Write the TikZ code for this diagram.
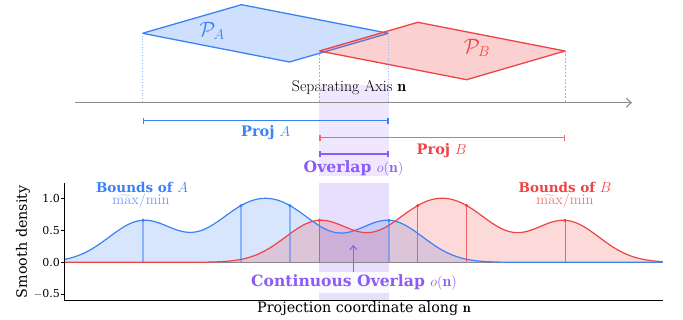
\documentclass[tikz,border=0pt]{standalone}
\usepackage{fontspec}
\newfontfamily\dvs{DejaVu Serif}
\usetikzlibrary{arrows.meta}
\definecolor{cA}{HTML}{3B82F6}
\definecolor{cB}{HTML}{EF4444}
\definecolor{cO}{HTML}{8B5CF6}
\definecolor{axg}{HTML}{8C8C8C}
\tikzset{
  boldlbl/.style={font={\fontsize{14.5}{16}\selectfont\dvs\bfseries}, inner sep=1pt},
  ovlbl/.style={font={\fontsize{15.6}{17}\selectfont\dvs\bfseries}, inner sep=1pt},
  bndlbl/.style={font={\fontsize{13.5}{15}\selectfont\dvs\bfseries}, inner sep=1pt},
  mmlbl/.style={font={\fontsize{14.5}{15}\selectfont}, inner sep=0pt},
  serlbl/.style={font={\fontsize{14.3}{15}\selectfont\dvs}, inner sep=1pt},
  ticklbl/.style={font={\fontsize{11}{12}\selectfont\dvs}, inner sep=0pt, anchor=east},
  polyA/.style={draw=cA, fill=cA, fill opacity=0.25, line width=1.3pt, line join=round},
  polyB/.style={draw=cB, fill=cB, fill opacity=0.25, line width=1.3pt, line join=round},
  projbar/.style={line width=1.5pt, {Bar[width=6pt]}-{Bar[width=6pt]}},
  dotA/.style={circle, fill=cA, inner sep=0pt, minimum size=3.5pt},
  dotB/.style={circle, fill=cB, inner sep=0pt, minimum size=3.5pt},
  stemA/.style={cA, opacity=0.5, line width=2pt},
  stemB/.style={cB, opacity=0.8, line width=1pt},
}
\begin{document}
\begin{tikzpicture}[x=1pt,y=-1pt,
  declare function={
    gg(\t)=exp(-min(0.5*(\t/34)*(\t/34),12));
    fA(\t)=(gg(\t-143)+gg(\t-241)+gg(\t-290)+gg(\t-389))/1.546;
    fB(\t)=(gg(\t-319.3)+gg(\t-417.7)+gg(\t-466.6)+gg(\t-565))/1.546;
  }]
\path[use as bounding box] (0,0) rectangle (683,320);

% overlap columns
\fill[cO, opacity=0.15] (319.3,85) rectangle (388.5,176);
\fill[cO, opacity=0.2] (319.3,183) rectangle (388.5,300.7);

% parallelograms
\coordinate (AL) at (142.5,33.3);
\coordinate (AT) at (241.5,4.7);
\coordinate (AR) at (388.5,33.3);
\coordinate (AB) at (289.5,62);
\coordinate (BL) at (319.3,51);
\coordinate (BT) at (417.7,22.3);
\coordinate (BR) at (565,51);
\coordinate (BB) at (466.6,79.7);
\path[polyA] (AL) -- (AT) -- (AR) -- (AB) -- cycle;
\path[polyB] (BL) -- (BT) -- (BR) -- (BB) -- cycle;
\node[text=cA, font={\fontsize{20}{22}\selectfont}] (PA) at (212,31) {$\mathcal{P}_A$};
\node[text=cB, font={\fontsize{20}{22}\selectfont}] (PB) at (477,48) {$\mathcal{P}_B$};

% separating axis
\coordinate (ax0) at (75,102.7);
\coordinate (ax1) at (632,102.7);
\draw[axg, line width=1.1pt, -{Straight Barb[length=5pt,width=9pt]}] (ax0) -- (ax1);
\node[font={\fontsize{15.8}{17}\selectfont}] (sep) at (349,88) {Separating Axis $\mathbf{n}$};

% projection guides
\draw[cA!55, dotted, line width=0.7pt] (AL) -- (AL |- ax0);
\draw[cA!55, dotted, line width=0.7pt] (AR) -- (AR |- ax0);
\draw[cB!55, dashed, dash pattern=on 2pt off 1.5pt, line width=0.6pt] (BL) -- (BL |- ax0);
\draw[cB!55, dashed, dash pattern=on 2pt off 1.5pt, line width=0.6pt] (BR) -- (BR |- ax0);

% projection bars
\coordinate (pa0) at (142.5,120.7);
\coordinate (pa1) at (388.5,120.7);
\coordinate (pb0) at (319.3,137.7);
\coordinate (pb1) at (565,137.7);
\coordinate (po0) at (319.3,154);
\coordinate (po1) at (388.5,154);
\draw[projbar, cA] (pa0) -- (pa1);
\draw[projbar, cB!80] (pb0) -- (pb1);
\draw[projbar, cO] (po0) -- (po1);
\node[boldlbl, text=cA] (projA) at (265.7,133) {Proj $A$};
\node[boldlbl, text=cB] (projB) at (441.7,151) {Proj $B$};
\node[ovlbl, text=cO] (ovl) at (353.5,168.5) {Overlap $o(\mathbf{n})$};

% plot axes
\coordinate (z0) at (64.3,262.3);
\coordinate (z1) at (662.7,262.3);
\draw[axg, line width=0.6pt] (z0) -- (z1);

% densities
\fill[cA, fill opacity=0.2] (z0) -- plot[domain=64.3:662.7, samples=240] (\x,{262.3-64*fA(\x)}) -- (z1) -- cycle;
\fill[cB, fill opacity=0.2] (z0) -- plot[domain=64.3:662.7, samples=240] (\x,{262.3-64*fB(\x)}) -- (z1) -- cycle;
\draw[cA, line width=1.2pt] plot[domain=64.3:662.7, samples=240] (\x,{262.3-64*fA(\x)});
\draw[cB, line width=1.2pt] plot[domain=64.3:662.7, samples=240] (\x,{262.3-64*fB(\x)});

% stems and dots
\foreach \p [count=\i] in {143,241,290,389}{
  \node[dotA] (a\i) at (\p,{262.3-64*fA(\p)}) {};
  \draw[stemA] (a\i.center) -- (a\i |- z0);
}
\foreach \p [count=\i] in {319.3,417.7,466.6,565}{
  \node[dotB] (b\i) at (\p,{262.3-64*fB(\p)}) {};
  \draw[stemB] (b\i.center) -- (b\i |- z0);
}

% spines and ticks
\coordinate (sp0) at (64.3,183);
\coordinate (sp1) at (64.3,300.7);
\coordinate (sp2) at (662.7,300.7);
\draw[black, line width=1pt] (sp0) -- (sp1) -- (sp2);
\foreach \v/\lab [count=\i] in {1.0/1.0, 0.5/0.5, 0.0/0.0, -0.5/$-$0.5}{
  \coordinate (tk\i) at (64.3,{262.3-64*\v});
  \draw[black, line width=0.8pt] (tk\i) -- ++(-3.5,0);
  \node[ticklbl] (tl\i) at (60,{262.3-64*\v}) {\lab};
}
\node[serlbl, rotate=90] (ylab) at (23,241.7) {Smooth density};
\node[serlbl] (xlab) at (364,309) {Projection coordinate along $\mathbf{n}$};

% bounds labels
\node[bndlbl, text=cA] (bndA) at (142,187) {Bounds of $A$};
\node[mmlbl, text=cA!75] (mmA) at (141,201) {$\widetilde{\mathrm{max}}/\mathrm{min}$};
\node[bndlbl, text=cB] (bndB) at (565,187) {Bounds of $B$};
\node[mmlbl, text=cB!75] (mmB) at (565,201) {$\widetilde{\mathrm{max}}/\mathrm{min}$};

% continuous overlap
\node[ovlbl, text=cO, fill=white, fill opacity=0.85, text opacity=1, inner ysep=3pt] (cov) at (354,282.7) {Continuous Overlap $o(\mathbf{n})$};
\coordinate (covtip) at (353.3,245);
\draw[cO, line width=1pt, -{Straight Barb[length=4pt,width=7pt]}] (cov.north -| covtip) -- (covtip);
\end{tikzpicture}
\end{document}
